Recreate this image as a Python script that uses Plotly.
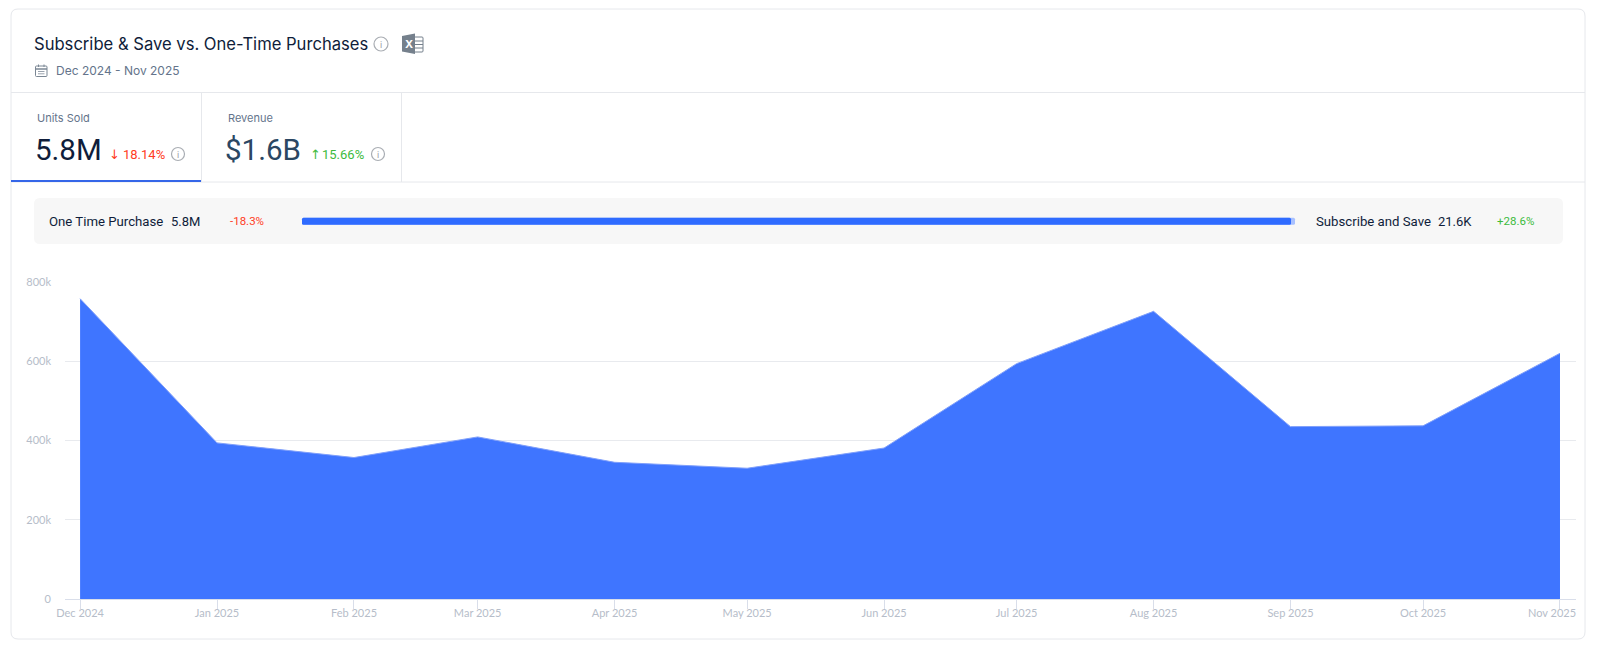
import plotly.graph_objects as go

W, H = 1600, 651

# Valores
months = ["2024-12-01", "2025-01-01", "2025-02-01", "2025-03-01", "2025-04-01", "2025-05-01",
          "2025-06-01", "2025-07-01", "2025-08-01", "2025-09-01", "2025-10-01", "2025-11-01"]
units = [758000, 394000, 357000, 409000, 345000, 330000, 381000, 594000, 726000, 435000, 437000, 620000]
month_labels = ["Dec 2024", "Jan 2025", "Feb 2025", "Mar 2025", "Apr 2025", "May 2025",
                "Jun 2025", "Jul 2025", "Aug 2025", "Sep 2025", "Oct 2025", "Nov 2025"]
y_ticks = [0, 200000, 400000, 600000, 800000]
y_labels = ["0", "200k", "400k", "600k", "800k"]

BLUE = "#3f75ff"
NAVY = "#0f1d3a"
SLATE = "#64748b"
LINE = "#e6e8ec"
AXIS_TXT = "#b6bdc9"
RED = "#ff3b24"
GREEN = "#3dbb3d"
ICON = "#75808c"


def px(x):
    return x / W


def py(y):
    return 1 - y / H


def rect(x0, y0, x1, y1, fill):
    return dict(type="rect", xref="paper", yref="paper", x0=px(x0), y0=py(y0), x1=px(x1), y1=py(y1),
                fillcolor=fill, line=dict(width=0), layer="below")


def seg(x0, y0, x1, y1, color=LINE, width=1):
    return dict(type="line", xref="paper", yref="paper", x0=px(x0), y0=py(y0), x1=px(x1), y1=py(y1),
                line=dict(color=color, width=width), layer="below")


def rounded(x0, y0, x1, y1, r, fill, line=None):
    path = (f"M{px(x0 + r)},{py(y0)} L{px(x1 - r)},{py(y0)} Q{px(x1)},{py(y0)} {px(x1)},{py(y0 + r)} "
            f"L{px(x1)},{py(y1 - r)} Q{px(x1)},{py(y1)} {px(x1 - r)},{py(y1)} "
            f"L{px(x0 + r)},{py(y1)} Q{px(x0)},{py(y1)} {px(x0)},{py(y1 - r)} "
            f"L{px(x0)},{py(y0 + r)} Q{px(x0)},{py(y0)} {px(x0 + r)},{py(y0)} Z")
    return dict(type="path", xref="paper", yref="paper", path=path, fillcolor=fill,
                line=dict(color=line or "rgba(0,0,0,0)", width=1 if line else 0), layer="below")


def label(x, y, text, size, color, font="Roboto", anchor="left", weight=None):
    f = dict(size=size, color=color, family=font)
    if weight:
        f["weight"] = weight
    return dict(xref="paper", yref="paper", x=px(x), y=py(y), text=text, showarrow=False, font=f,
                xanchor=anchor, yanchor="middle", borderpad=0, borderwidth=0)


def info_icon(cx, cy, r=6.5):
    shape = dict(type="circle", xref="paper", yref="paper", x0=px(cx - r), y0=py(cy - r), x1=px(cx + r), y1=py(cy + r),
                 line=dict(color="#a9adb3", width=1.2), fillcolor="rgba(0,0,0,0)", layer="below")
    return shape, label(cx, cy, "i", 9, "#9a9ea5", "Inter", "center")


excel_path = (f"M{px(402)},{py(36)} L{px(415)},{py(33.5)} L{px(415)},{py(54)} L{px(402)},{py(51.5)} Z")

shapes = [
    rounded(11, 9, 1585, 639, 7, "#ffffff", LINE),
    seg(11, 92.5, 1585, 92.5),
    seg(11, 182, 1585, 182),
    seg(201.5, 93, 201.5, 182),
    seg(401.5, 93, 401.5, 182),
    rect(11, 180, 201, 182, "#3566e8"),
    rounded(34, 198, 1563, 244, 6, "#f7f7f7"),
    rounded(302, 217.7, 1295, 224.7, 1.5, "#a9c1ff"),
    rounded(302, 217.7, 1291, 224.7, 1.5, "#2f6bff"),
    # calendario
    rounded(35.5, 66, 47, 76.5, 1, "rgba(0,0,0,0)", "#7b8794"),
    seg(35.5, 69, 47, 69, "#7b8794", 1.5),
    seg(38.5, 64.5, 38.5, 67, "#7b8794", 1),
    seg(44, 64.5, 44, 67, "#7b8794", 1),
    rect(38, 71, 44.5, 72, "#9aa3ae"),
    rect(38, 73.3, 44.5, 74.3, "#9aa3ae"),
    # excel
    rounded(412, 37, 423, 52, 1, "rgba(0,0,0,0)", ICON),
    seg(415, 41, 423, 41, ICON, 1),
    seg(415, 44.5, 423, 44.5, ICON, 1),
    seg(415, 48, 423, 48, ICON, 1),
    dict(type="path", xref="paper", yref="paper", path=excel_path, fillcolor=ICON, line=dict(width=0), layer="below"),
]

annotations = [
    label(34, 44, "Subscribe &amp; Save vs. One-Time Purchases", 16.6, NAVY, "Inter", weight=400),
    label(56, 70, "Dec 2024 - Nov 2025", 12, SLATE, "Inter"),
    label(408.5, 44, "X", 11, "#ffffff", "Inter", "center", 700),
    label(37, 118, "Units Sold", 11, SLATE, "Inter"),
    label(34.5, 149.5, "5.8M", 29.5, NAVY),
    label(115, 154, "↓", 13, RED, "DejaVu Sans", "center"),
    label(123, 154, "18.14%", 13, RED),
    label(228, 118, "Revenue", 11, SLATE, "Inter"),
    label(224.5, 149.5, "$1.6B", 29.5, "#2b4763"),
    label(315, 154, "↑", 13, GREEN, "DejaVu Sans", "center"),
    label(322, 154, "15.66%", 13, GREEN),
    label(49, 221.5, "One Time Purchase", 13.2, NAVY),
    label(171, 221.5, "5.8M", 13, NAVY),
    label(230, 221.5, "-18.3%", 11.5, RED),
    label(1316, 221.5, "Subscribe and Save", 13.2, NAVY),
    label(1438, 221.5, "21.6K", 13, NAVY),
    label(1497, 221.5, "+28.6%", 11.5, GREEN),
    label(1576, 612, month_labels[-1], 11, AXIS_TXT, "Lato", "right"),
]

for cx, cy, r in [(381, 44, 7), (178, 154, 6.5), (378, 154, 6.5)]:
    s, a = info_icon(cx, cy, r)
    shapes.append(s)
    annotations.append(a)

fig = go.Figure()
fig.add_trace(go.Scatter(
    x=months,
    y=units,
    mode="lines",
    fill="tozeroy",
    fillcolor=BLUE,
    line=dict(color="#7f9ffb", width=1),
    hoverinfo="x+y",
    showlegend=False,
))

fig.update_layout(
    width=W,
    height=H,
    margin=dict(l=0, r=0, t=0, b=0, autoexpand=False),
    paper_bgcolor="#ffffff",
    plot_bgcolor="rgba(0,0,0,0)",
    shapes=shapes,
    annotations=annotations,
    showlegend=False,
)
fig.update_xaxes(
    type="date",
    domain=[px(65), px(1576)],
    range=["2024-11-27 14:00", "2025-11-04 15:00"],
    tickmode="array",
    tickvals=months,
    ticktext=month_labels[:-1] + [""],
    ticks="outside",
    ticklen=9,
    tickcolor="#d9deea",
    ticklabelstandoff=-5,
    tickfont=dict(size=11, color=AXIS_TXT, family="Lato"),
    showgrid=False,
    showline=True,
    linecolor="#d9deea",
    zeroline=False,
)
fig.update_yaxes(
    domain=[py(599), py(282)],
    range=[0, 800000],
    tickmode="array",
    tickvals=y_ticks,
    ticktext=y_labels,
    ticks="",
    ticklabelstandoff=13,
    tickfont=dict(size=11, color=AXIS_TXT, family="Lato"),
    showgrid=True,
    gridcolor="#e8eaee",
    gridwidth=1,
    zeroline=False,
    showline=False,
)

fig.write_html("out.html", config=dict(displayModeBar=False),
               post_script="document.body.style.margin='0';document.body.style.background='#ffffff';")
